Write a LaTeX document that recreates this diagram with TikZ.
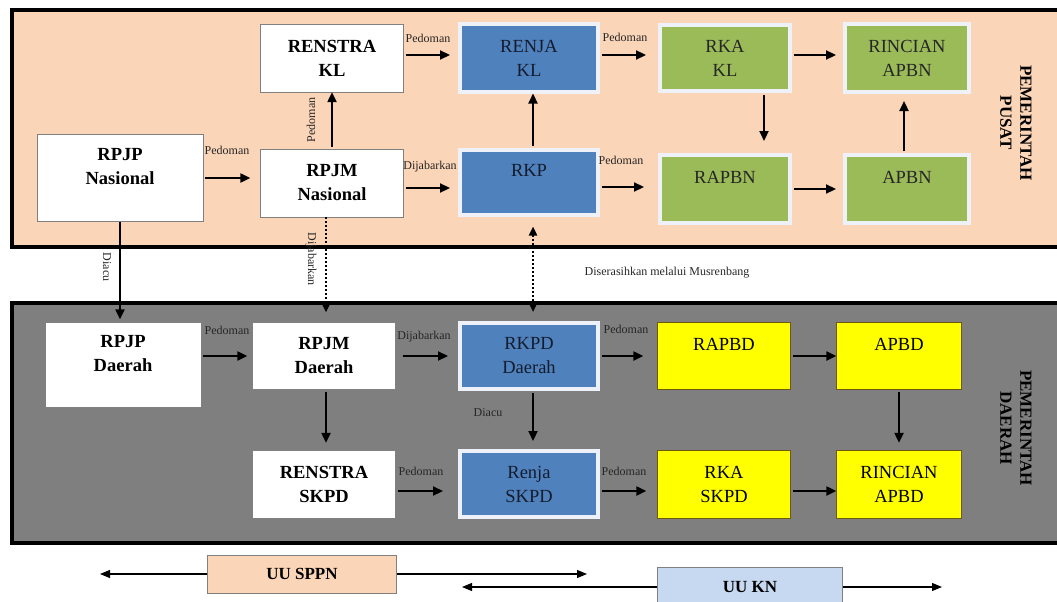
\documentclass[tikz,border=0pt]{standalone}
\usepackage{fontspec}
\setmainfont{Liberation Serif}
\usepackage{tikz}
\usetikzlibrary{arrows.meta}
\definecolor{peach}{HTML}{FBD5B8}
\definecolor{slate}{HTML}{7F7F7F}
\definecolor{steel}{HTML}{4F81BD}
\definecolor{leaf}{HTML}{9BBB59}
\definecolor{lemon}{HTML}{FFFF00}
\definecolor{umber}{HTML}{6B5A10}
\definecolor{rim}{HTML}{EEF2F8}
\definecolor{sky}{HTML}{C6D9F1}
\definecolor{ink}{HTML}{141C2E}

\begin{document}
\begin{tikzpicture}[x=1pt,y=-1pt,wh/.style 2 args={minimum width=#1pt,minimum height=#2pt},doc/.style={draw=gray,fill=white,align=center,inner sep=0pt,font=\fontsize{18.5}{24}\selectfont\bfseries},plan/.style={draw=rim,line width=4pt,fill=steel,text=ink,align=center,inner sep=0pt,font=\fontsize{18.5}{24}\selectfont},budget/.style={draw=rim,line width=4pt,fill=leaf,text=black!85,align=center,inner sep=0pt,font=\fontsize{18.5}{24}\selectfont},regional/.style={draw=umber,fill=lemon,align=center,inner sep=0pt,font=\fontsize{18.5}{24}\selectfont},law/.style={draw=gray,fill=#1,align=center,inner sep=0pt,font=\fontsize{17}{20}\selectfont\bfseries},tag/.style={font=\fontsize{12}{14}\selectfont,text=black!85,inner sep=1pt},side/.style={font=\fontsize{17}{20}\selectfont\bfseries,align=center,rotate=-90},flow/.style={-{Triangle[length=10pt,width=9pt]},line width=2.2pt,shorten >=8pt,shorten <=2pt},link/.style={dash pattern=on 2pt off 2pt,line width=2.6pt},span/.style={-{Triangle[length=10pt,width=8pt]},line width=1.1pt}]
\useasboundingbox (0,0) rectangle (1057,602);
% panels
\draw[line width=3.5pt,fill=peach] (12,10) rectangle (1080,247);
\draw[line width=3.5pt,fill=slate] (12,303) rectangle (1080,543);
\node[side] (pusat) at (1016,123) {PEMERINTAH\\PUSAT};
\node[side] (daerah) at (1016,428) {PEMERINTAH\\DAERAH};
% pusat
\node[doc,wh={143}{68}] (renstrakl) at (332,58) {RENSTRA\\KL};
\node[doc,wh={166}{87}] (rpjpnas) at (120,178) {RPJP\\Nasional\\~};
\node[doc,wh={143}{68}] (rpjmnas) at (332,183) {RPJM\\Nasional};
\node[plan,wh={138}{67}] (renjakl) at (529,58) {RENJA\\KL};
\node[plan,wh={138}{65}] (rkp) at (529,182) {RKP\\~};
\node[budget,wh={130}{66}] (rkakl) at (725,58) {RKA\\KL};
\node[budget,wh={130}{68}] (rapbn) at (725,189) {RAPBN\\~};
\node[budget,wh={124}{68}] (rincianapbn) at (907,58) {RINCIAN\\APBN};
\node[budget,wh={124}{68}] (apbn) at (907,189) {APBN\\~};
% daerah
\node[doc,wh={156}{85}] (rpjpdaerah) at (123,365) {RPJP\\Daerah\\~};
\node[doc,wh={143}{67}] (rpjmdaerah) at (324,356) {RPJM\\Daerah};
\node[doc,wh={143}{68}] (renstraskpd) at (324,484) {RENSTRA\\SKPD};
\node[plan,wh={138}{66}] (rkpddaerah) at (529,356) {RKPD\\Daerah};
\node[plan,wh={138}{66}] (renjaskpd) at (529,484) {Renja\\SKPD};
\node[regional,wh={133}{67}] (rapbd) at (724,356) {RAPBD\\~};
\node[regional,wh={125}{67}] (apbd) at (899,356) {APBD\\~};
\node[regional,wh={133}{68}] (rkaskpd) at (724,484) {RKA\\SKPD};
\node[regional,wh={125}{68}] (rincianapbd) at (899,484) {RINCIAN\\APBD};
% legend
\node[law=peach,wh={189}{38}] (uusppn) at (302,574) {UU SPPN};
\node[law=sky,wh={185}{40}] (uukn) at (750,587) {UU KN};
\coordinate (sppnl) at (100,574);
\coordinate (sppnr) at (587,574);
\coordinate (knl) at (462,587);
\coordinate (knr) at (942,587);
% labels
\node[tag] (t1) at (428,38) {Pedoman};
\node[tag] (t2) at (227,150) {Pedoman};
\node[tag,rotate=90] (t3) at (311,120) {Pedoman};
\node[tag] (t4) at (430,167) {Dijabarkan};
\node[tag] (t5) at (625,37) {Pedoman};
\node[tag] (t6) at (621,160) {Pedoman};
\node[tag,rotate=-90] (t7) at (107,267) {Diacu};
\node[tag,rotate=-90] (t8) at (311,259) {Dijabarkan};
\node[tag] (t9) at (667,273) {Diserasihkan melalui Musrenbang};
\node[tag] (t10) at (227,330) {Pedoman};
\node[tag] (t11) at (424,337) {Dijabarkan};
\node[tag] (t12) at (488,413) {Diacu};
\node[tag] (t13) at (421,471) {Pedoman};
\node[tag] (t14) at (626,329) {Pedoman};
\node[tag] (t15) at (624,471) {Pedoman};
% arrows pusat
\draw[flow,shorten >=10pt] (rpjpnas.east) -- (rpjpnas.east -| rpjmnas.west);
\draw[flow,shorten >=0pt] (rpjmnas.north) -- (rpjmnas.north |- renstrakl.south);
\draw[flow] ([yshift=3pt]renstrakl.east) -- ([yshift=3pt]renstrakl.east -| renjakl.west);
\draw[flow] ([yshift=-5pt]rpjmnas.east) -- ([yshift=-5pt]rpjmnas.east -| rkp.west);
\draw[flow,shorten >=0pt] ([xshift=4pt]rkp.north) -- ([xshift=4pt]renjakl.south);
\draw[flow,shorten >=12pt] ([yshift=3pt]renjakl.east) -- ([yshift=3pt]renjakl.east -| rkakl.west);
\draw[flow,shorten >=14pt] ([yshift=-5pt]rkp.east) -- ([yshift=-5pt]rkp.east -| rapbn.west);
\draw[flow,shorten >=7pt] ([yshift=3pt]rkakl.east) -- ([yshift=3pt]rkakl.east -| rincianapbn.west);
\draw[flow,shorten >=12pt] ([xshift=39pt]rkakl.south) -- ([xshift=39pt]rkakl.south |- rapbn.north);
\draw[flow,shorten >=7pt] (rapbn.east) -- (rapbn.east -| apbn.west);
\draw[flow,shorten >=7pt] ([xshift=-3pt]apbn.north) -- ([xshift=-3pt]apbn.north |- rincianapbn.south);
% pusat ke daerah
\draw[flow,shorten >=3pt,shorten <=0pt] (rpjpnas.south) -- (rpjpnas.south |- rpjpdaerah.north);
\draw[link,-{Triangle[length=9pt,width=8pt]},shorten >=10pt] ([xshift=-6pt]rpjmnas.south) -- ([xshift=-6pt]rpjmnas.south |- rpjmdaerah.north);
\draw[link,{Triangle[length=9pt,width=8pt]}-{Triangle[length=9pt,width=8pt]},shorten <=10pt,shorten >=9pt] ([xshift=4pt]rkp.south) -- ([xshift=4pt]rkp.south |- rkpddaerah.north);
% arrows daerah
\draw[flow,shorten >=5pt] (rpjpdaerah.east |- rpjmdaerah.east) -- (rpjmdaerah.west);
\draw[flow,shorten <=7pt,shorten >=10pt] (rpjmdaerah.east) -- (rkpddaerah.west);
\draw[flow,shorten >=7pt] ([xshift=2pt]rpjmdaerah.south) -- ([xshift=2pt]renstraskpd.north);
\draw[flow,shorten >=15pt] ([yshift=-7pt]renstraskpd.east) -- ([yshift=-7pt]renstraskpd.east -| renjaskpd.west);
\draw[flow,shorten >=8pt] ([xshift=4pt]rkpddaerah.south) -- ([xshift=4pt]renjaskpd.north);
\draw[flow,shorten >=14pt] (rkpddaerah.east) -- (rapbd.west);
\draw[flow,shorten >=11pt] ([yshift=-7pt]renjaskpd.east) -- ([yshift=-7pt]renjaskpd.east -| rkaskpd.west);
\draw[flow,shorten >=0pt] (rapbd.east) -- (apbd.west);
\draw[flow,shorten >=7pt] (apbd.south) -- (rincianapbd.north);
\draw[flow,shorten >=0pt] ([yshift=-7pt]rkaskpd.east) -- ([yshift=-7pt]rkaskpd.east -| rincianapbd.west);
% legend lines
\draw[span] (uusppn.west) -- (sppnl);
\draw[span] (uusppn.east) -- (sppnr);
\draw[span] (uukn.west) -- (knl);
\draw[span] (uukn.east) -- (knr);
\end{tikzpicture}
\end{document}
